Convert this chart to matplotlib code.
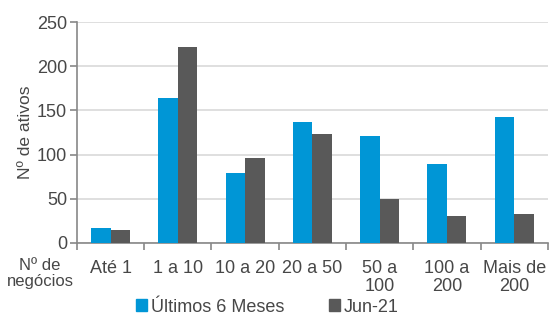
import numpy as np
import matplotlib
matplotlib.use('Agg')
import matplotlib.pyplot as plt
from matplotlib.patches import Patch

plt.rcParams['font.family'] = ['Liberation Sans', 'DejaVu Sans']

# dados
categorias = ['Até 1', '1 a 10', '10 a 20', '20 a 50', '50 a\n100', '100 a\n200', 'Mais de\n200']
ultimos_6m = [17, 164, 79, 137, 121, 89, 142]
jun21 = [14, 222, 96, 123, 50, 30, 33]
serie_nomes = ['Últimos 6 Meses', 'Jun-21']

azul = '#0096D6'
cinza = '#595959'
txt = '#474747'

fig = plt.figure(figsize=(5.49, 3.15), dpi=100)
ax = fig.add_axes([0.140, 0.229, 0.858, 0.701])

x = np.arange(len(categorias))
w = 0.29
ax.bar(x - w/2, ultimos_6m, w, color=azul, zorder=3)
ax.bar(x + w/2, jun21, w, color=cinza, zorder=3)

ax.set_xlim(-0.5, len(categorias) - 0.5)
ax.set_ylim(0, 250)
ax.set_yticks(range(0, 251, 50))
ax.yaxis.grid(True, color='#D9D9D9', linewidth=1.2, zorder=0)

ax.set_xticks(x)
ax.set_xticklabels(categorias, fontsize=13, color=txt, linespacing=1.15)
ax.set_xticks(np.arange(-0.5, len(categorias)), minor=True)
ax.tick_params(axis='x', which='major', length=0, pad=12)
ax.tick_params(axis='x', which='minor', length=5, width=1.2, color='#888888')
ax.tick_params(axis='y', length=5, width=1.2, color='#888888', labelsize=13, labelcolor=txt, pad=2)

for s in ['top', 'right']:
    ax.spines[s].set_visible(False)
for s in ['left', 'bottom']:
    ax.spines[s].set_color('#888888')
    ax.spines[s].set_linewidth(1.2)

ax.set_ylabel('Nº de ativos', fontsize=12.5, color=txt, labelpad=3)

fig.text(40/549, 1 - 258/315, 'Nº de\nnegócios', ha='center', va='top',
         fontsize=12, color=txt, linespacing=1.1)

handles = [Patch(color=azul), Patch(color=cinza)]
fig.legend(handles, serie_nomes, loc='center', bbox_to_anchor=(0.487, 1 - 307/315),
           ncol=2, frameon=False, fontsize=13, handlelength=0.6, handleheight=0.6,
           handletextpad=0.2, columnspacing=2.5, labelcolor=txt, borderpad=0)

fig.savefig('out.png', dpi=100)
